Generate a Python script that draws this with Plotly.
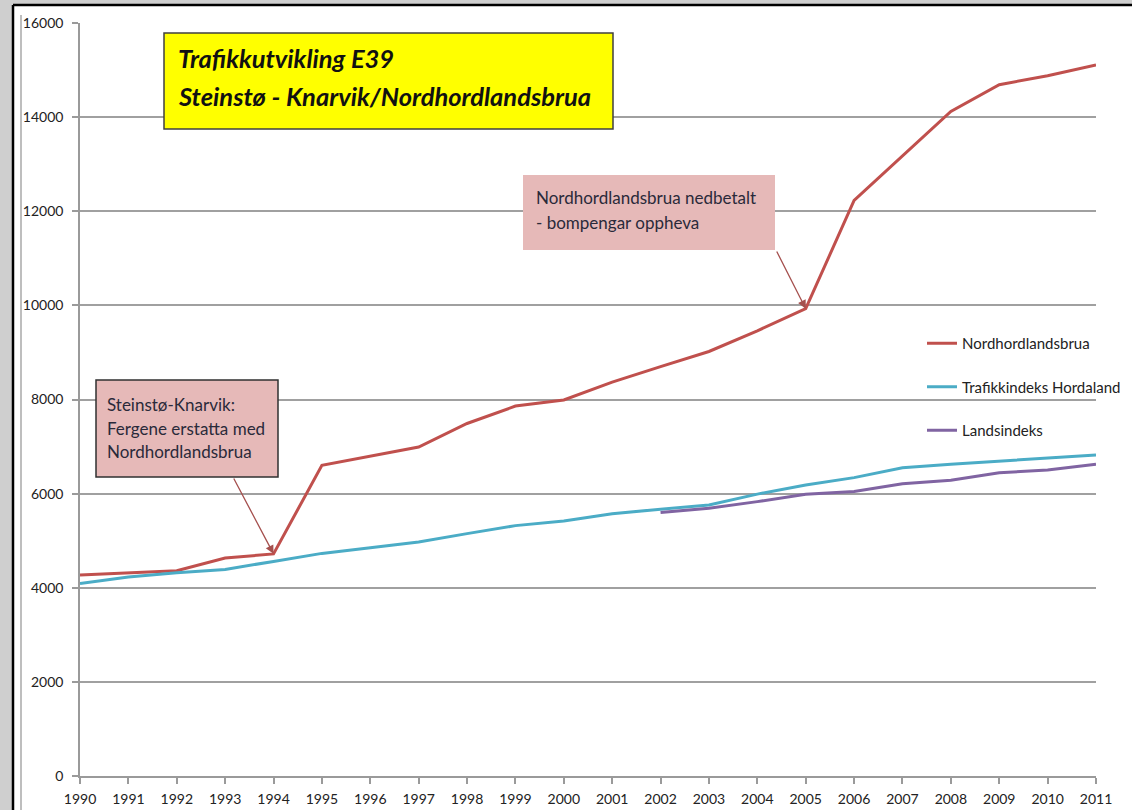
import plotly.graph_objects as go

years = list(range(1990, 2012))
nordhordlandsbrua = [4270, 4320, 4360, 4630, 4720, 6600, 6790, 6990, 7490, 7860, 7990, 8370,
                     8700, 9020, 9460, 9930, 12230, 13170, 14120, 14690, 14880, 15110]
trafikkindeks_hordaland = [4090, 4230, 4320, 4390, 4560, 4730, 4850, 4970, 5150, 5320, 5420, 5570,
                           5670, 5760, 5990, 6185, 6340, 6550, 6625, 6695, 6750, 6820]
landsindeks_years = list(range(2002, 2012))
landsindeks = [5600, 5690, 5830, 5985, 6045, 6210, 6285, 6445, 6500, 6625]

series_names = ["Nordhordlandsbrua", "Trafikkindeks Hordaland", "Landsindeks"]
y_ticks = list(range(0, 16001, 2000))

title_lines = ["Trafikkutvikling E39", "Steinstø - Knarvik/Nordhordlandsbrua"]
note1_lines = ["Steinstø-Knarvik:", "Fergene erstatta med", "Nordhordlandsbrua"]
note2_lines = ["Nordhordlandsbrua nedbetalt", "- bompengar oppheva"]

FONT = "Lato"
W_FIG, H_FIG = 1132, 810
L, R, T, B = 80, 1096, 23, 776


def px(x):
    return (x - L) / (R - L)


def py(y):
    return (B - y) / (B - T)


fig = go.Figure()
fig.add_trace(go.Scatter(x=years, y=nordhordlandsbrua, name=series_names[0], mode="lines",
                         line=dict(color="#c0504d", width=3), legendgroup="a"))
fig.add_trace(go.Scatter(x=years, y=trafikkindeks_hordaland, name=series_names[1], mode="lines",
                         line=dict(color="#4bacc6", width=3), legendgroup="b"))
fig.add_trace(go.Scatter(x=landsindeks_years, y=landsindeks, name=series_names[2], mode="lines",
                         line=dict(color="#8064a2", width=3), legendgroup="c"))

shapes = [
    # white page area with black frame edges
    dict(type="rect", xref="paper", yref="paper", x0=px(13), x1=px(1140), y0=py(5), y1=py(820),
         fillcolor="white", line=dict(width=0), layer="below"),
    dict(type="line", xref="paper", yref="paper", x0=px(13), x1=px(1140), y0=py(5), y1=py(5),
         line=dict(color="black", width=2.5), layer="below"),
    dict(type="line", xref="paper", yref="paper", x0=px(13), x1=px(13), y0=py(5), y1=py(820),
         line=dict(color="black", width=2.5), layer="below"),
    dict(type="line", xref="paper", yref="paper", x0=px(21), x1=px(21), y0=py(15), y1=py(820),
         line=dict(color="#a8a8a8", width=1.5), layer="below"),
    # title box
    dict(type="rect", xref="paper", yref="paper", x0=px(164), x1=px(613), y0=py(33), y1=py(129),
         fillcolor="#ffff00", line=dict(color="#404040", width=1.5), layer="above"),
    # note 1 box
    dict(type="rect", xref="paper", yref="paper", x0=px(96), x1=px(278), y0=py(380), y1=py(477),
         fillcolor="#e6b9b8", line=dict(color="#303030", width=1.5), layer="above"),
    # note 2 box
    dict(type="rect", xref="paper", yref="paper", x0=px(523), x1=px(775), y0=py(175), y1=py(250),
         fillcolor="#e6b9b8", line=dict(width=0), layer="above"),
]

annotations = []
for i, t in enumerate(title_lines):
    annotations.append(dict(text="<b><i>" + t + "</i></b>", xref="paper", yref="paper",
                            x=px(176), y=py(58 + 38 * i), xanchor="left", yanchor="middle",
                            showarrow=False, font=dict(family=FONT, size=25.5, color="#111111")))
for i, t in enumerate(note1_lines):
    annotations.append(dict(text=t, xref="paper", yref="paper",
                            x=px(105), y=py(404 + 24 * i), xanchor="left", yanchor="middle",
                            showarrow=False, font=dict(family=FONT, size=17, color="#2a2a3a")))
for i, t in enumerate(note2_lines):
    annotations.append(dict(text=t, xref="paper", yref="paper",
                            x=px(534), y=py(197 + 25 * i), xanchor="left", yanchor="middle",
                            showarrow=False, font=dict(family=FONT, size=17, color="#2a2a3a")))


def to_px(xv, yv):
    return (L + (xv - 1990) / (2011 - 1990) * (R - L), B - yv / 16000 * (B - T))


# arrows pointing at the data points (tails given in pixels, converted to offsets)
for xv, yv, tail in [(1994, nordhordlandsbrua[4], (233, 477)), (2005, nordhordlandsbrua[15], (776, 250))]:
    xp, yp = to_px(xv, yv)
    annotations.append(dict(text="", x=xv, y=yv, xref="x", yref="y",
                            ax=tail[0] - xp, ay=tail[1] - yp,
                            showarrow=True, arrowhead=2, arrowsize=1.3, arrowwidth=1.3,
                            arrowcolor="#a5504e"))

fig.update_layout(
    width=W_FIG, height=H_FIG,
    margin=dict(l=L, r=W_FIG - R, t=T, b=H_FIG - B, pad=0, autoexpand=False),
    paper_bgcolor="#cfcfcf",
    plot_bgcolor="white",
    font=dict(family=FONT, size=12, color="#222222"),
    shapes=shapes,
    annotations=annotations,
    showlegend=True,
    legend=dict(x=px(922), y=py(327), xanchor="left", yanchor="top",
                bgcolor="rgba(0,0,0,0)", font=dict(family=FONT, size=15, color="#222222"),
                tracegroupgap=21, itemwidth=30),
    xaxis=dict(range=[1990, 2011], tickmode="array", tickvals=years, ticktext=[str(y) for y in years],
               showgrid=False, zeroline=False, showline=True, linecolor="#9a9a9a", linewidth=1.5,
               ticks="outside", ticklen=6, tickcolor="#9a9a9a", tickwidth=1.5, automargin=False,
               tickfont=dict(family=FONT, size=14, color="#222222"), ticklabelstandoff=3),
    yaxis=dict(range=[0, 16000], tickmode="array", tickvals=y_ticks, ticktext=[str(v) for v in y_ticks],
               showgrid=True, gridcolor="#a0a0a0", gridwidth=1.5, zeroline=False,
               showline=True, linecolor="#9a9a9a", linewidth=1.5, automargin=False,
               ticks="outside", ticklen=6, tickcolor="#9a9a9a", tickwidth=1.5,
               tickfont=dict(family=FONT, size=14, color="#222222"), ticklabelstandoff=6),
)

fig.write_html("out.html", config={"displayModeBar": False},
               post_script="document.body.style.margin='0';document.body.style.padding='0';")
